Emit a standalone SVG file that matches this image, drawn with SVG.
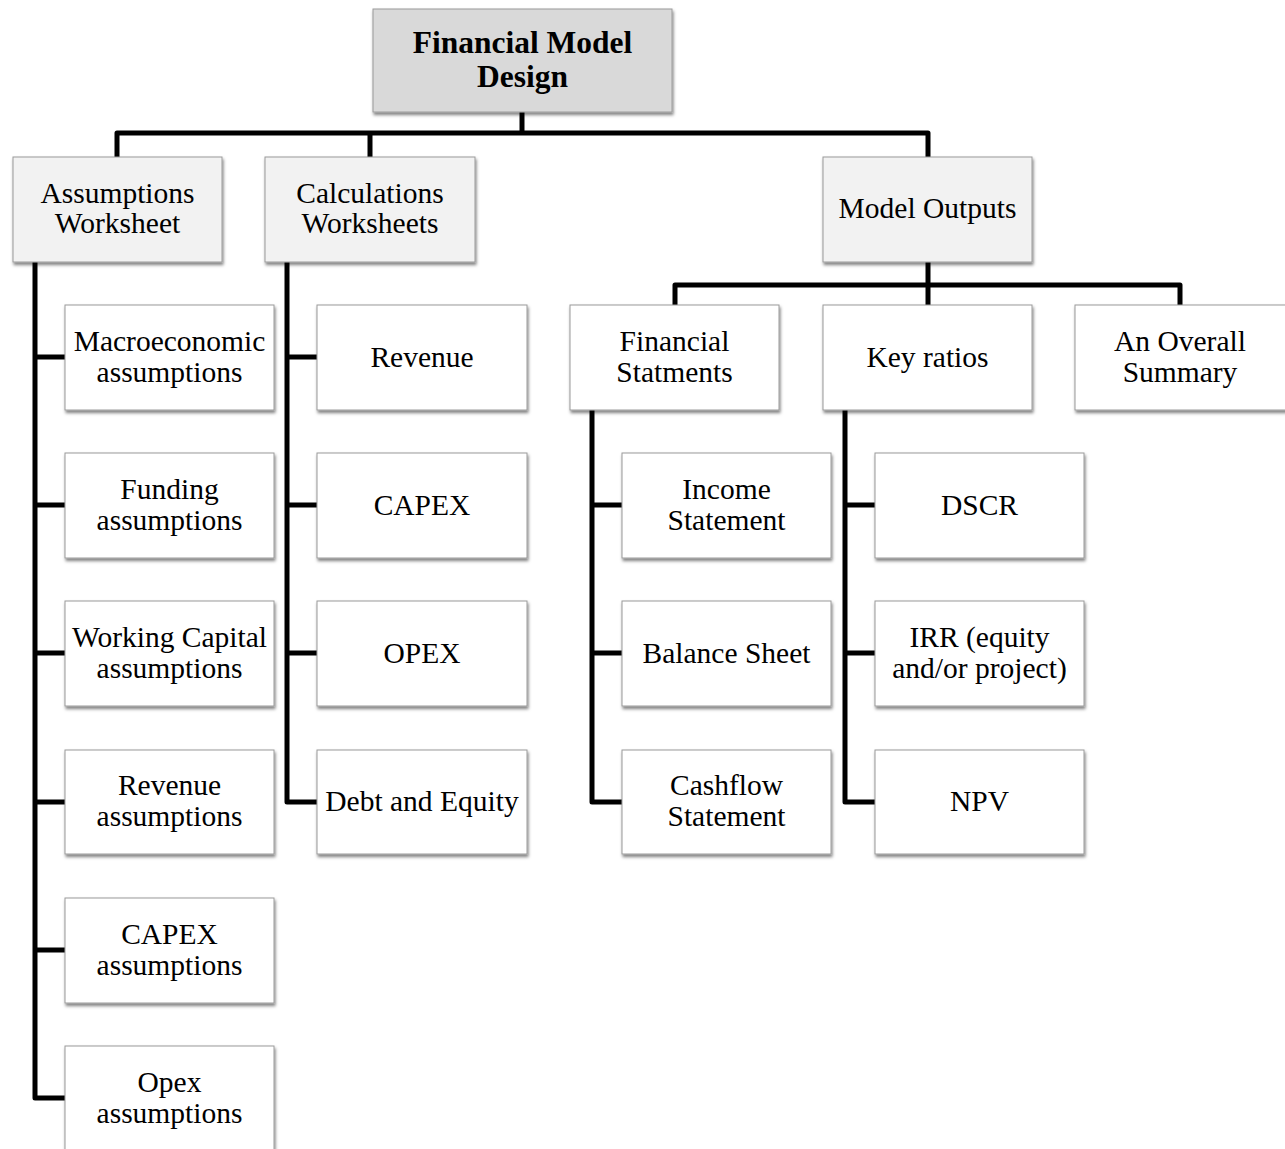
<svg xmlns="http://www.w3.org/2000/svg" width="1285" height="1149" viewBox="0 0 1285 1149">
<defs>
<filter id="sh" x="-10%" y="-10%" width="130%" height="140%">
<feDropShadow dx="1" dy="2.5" stdDeviation="1.5" flood-color="#000" flood-opacity="0.5"/>
</filter>
<style>
.box{stroke:#9a9a9a;stroke-width:1;filter:url(#sh)}
.w{fill:#ffffff}
.l2{fill:#f2f2f2}
.root{fill:#d9d9d9}
text{font-family:"Liberation Serif","Times New Roman",serif;font-size:29.5px;fill:#000;text-anchor:middle}
.b{font-weight:bold;font-size:31.5px}
.c{fill:none;stroke:#000;stroke-width:5;stroke-linejoin:round;stroke-linecap:butt}
</style>
</defs>
<rect width="1285" height="1149" fill="#fff"/>
<g id="connectors">
<path class="c" d="M522,112 V133"/>
<path class="c" d="M117,158 V133 H928 V158"/>
<path class="c" d="M370,133 V158"/>
<path class="c" d="M35,262 V1098 H65"/>
<path class="c" d="M35,357 H65 M35,505 H65 M35,653 H65 M35,802 H65 M35,950 H65"/>
<path class="c" d="M287,262 V802 H317"/>
<path class="c" d="M287,357 H317 M287,505 H317 M287,653 H317"/>
<path class="c" d="M928,262 V305"/>
<path class="c" d="M675,305 V285 H1180 V305"/>
<path class="c" d="M592,410 V802 H622"/>
<path class="c" d="M592,505 H622 M592,653 H622"/>
<path class="c" d="M845,410 V802 H875"/>
<path class="c" d="M845,505 H875 M845,653 H875"/>
</g>
<g id="root"><rect class="box root" x="373" y="9" width="299" height="103"/><text class="b" x="522.5" y="53">Financial Model</text><text class="b" x="522.5" y="87">Design</text></g>
<g id="assumptions-ws"><rect class="box l2" x="13" y="157" width="209" height="105"/><text x="117.5" y="203">Assumptions</text><text x="117.5" y="233">Worksheet</text></g>
<g id="calculations-ws"><rect class="box l2" x="265" y="157" width="210" height="105"/><text x="370" y="203">Calculations</text><text x="370" y="233">Worksheets</text></g>
<g id="model-outputs"><rect class="box l2" x="823" y="157" width="209" height="105"/><text x="927.5" y="218">Model Outputs</text></g>

<g id="macro"><rect class="box w" x="65" y="305" width="209" height="105"/><text x="169.5" y="351">Macroeconomic</text><text x="169.5" y="382">assumptions</text></g>
<g id="funding"><rect class="box w" x="65" y="453" width="209" height="105"/><text x="169.5" y="499">Funding</text><text x="169.5" y="530">assumptions</text></g>
<g id="wc"><rect class="box w" x="65" y="601" width="209" height="105"/><text x="169.5" y="647">Working Capital</text><text x="169.5" y="678">assumptions</text></g>
<g id="rev-a"><rect class="box w" x="65" y="750" width="209" height="104"/><text x="169.5" y="795">Revenue</text><text x="169.5" y="826">assumptions</text></g>
<g id="capex-a"><rect class="box w" x="65" y="898" width="209" height="105"/><text x="169.5" y="944">CAPEX</text><text x="169.5" y="975">assumptions</text></g>
<g id="opex-a"><rect class="box w" x="65" y="1046" width="209" height="110"/><text x="169.5" y="1092">Opex</text><text x="169.5" y="1123">assumptions</text></g>

<g id="revenue"><rect class="box w" x="317" y="305" width="210" height="105"/><text x="422" y="367">Revenue</text></g>
<g id="capex"><rect class="box w" x="317" y="453" width="210" height="105"/><text x="422" y="515">CAPEX</text></g>
<g id="opex"><rect class="box w" x="317" y="601" width="210" height="105"/><text x="422" y="663">OPEX</text></g>
<g id="debt"><rect class="box w" x="317" y="750" width="210" height="104"/><text x="422" y="811">Debt and Equity</text></g>

<g id="fin-st"><rect class="box w" x="570" y="305" width="209" height="105"/><text x="674.5" y="351">Financial</text><text x="674.5" y="382">Statments</text></g>
<g id="key-ratios"><rect class="box w" x="823" y="305" width="209" height="105"/><text x="927.5" y="367">Key ratios</text></g>
<g id="summary"><rect class="box w" x="1075" y="305" width="215" height="105"/><text x="1180" y="351">An Overall</text><text x="1180" y="382">Summary</text></g>

<g id="income"><rect class="box w" x="622" y="453" width="209" height="105"/><text x="726.5" y="499">Income</text><text x="726.5" y="530">Statement</text></g>
<g id="balance"><rect class="box w" x="622" y="601" width="209" height="105"/><text x="726.5" y="663">Balance Sheet</text></g>
<g id="cashflow"><rect class="box w" x="622" y="750" width="209" height="104"/><text x="726.5" y="795">Cashflow</text><text x="726.5" y="826">Statement</text></g>

<g id="dscr"><rect class="box w" x="875" y="453" width="209" height="105"/><text x="979.5" y="515">DSCR</text></g>
<g id="irr"><rect class="box w" x="875" y="601" width="209" height="105"/><text x="979.5" y="647">IRR (equity</text><text x="979.5" y="678">and/or project)</text></g>
<g id="npv"><rect class="box w" x="875" y="750" width="209" height="104"/><text x="979.5" y="811">NPV</text></g>
</svg>
